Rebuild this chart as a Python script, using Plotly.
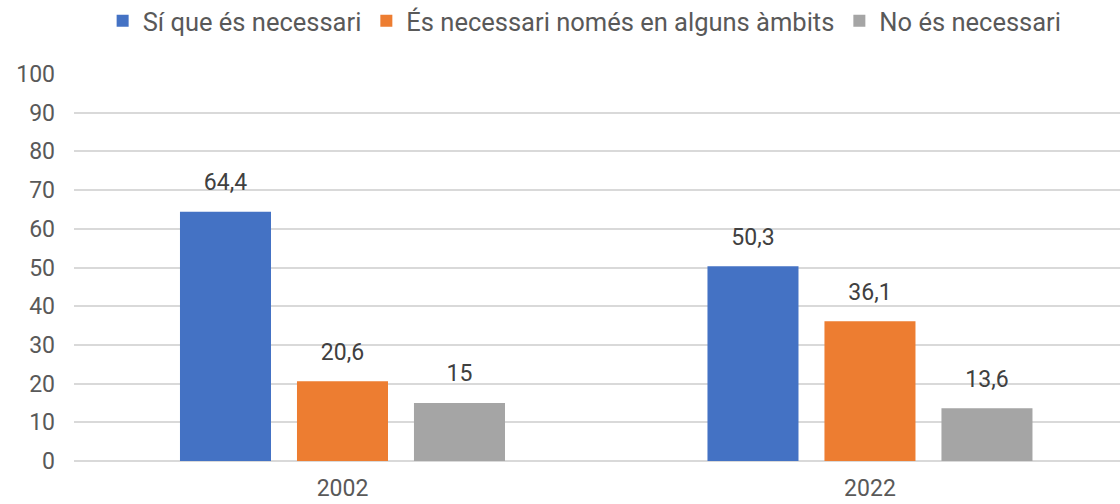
import plotly.graph_objects as go

years = ["2002", "2022"]
series_names = ["Sí que és necessari", "És necessari només en alguns àmbits", "No és necessari"]
si_necessari = [64.4, 50.3]
alguns_ambits = [20.6, 36.1]
no_necessari = [15, 13.6]
colors = ["#4472C4", "#ED7D31", "#A5A5A5"]

fig = go.Figure()

for i, (name, vals, col) in enumerate(zip(series_names, [si_necessari, alguns_ambits, no_necessari], colors)):
    fig.add_trace(go.Bar(
        x=years, y=vals, marker_color=col, marker_line_width=0,
        offsetgroup=str(i), showlegend=False, name=name, hoverinfo="skip"))
    # data labels (invisible marker lifts the text off the bar top)
    fig.add_trace(go.Scatter(
        x=years, y=vals, mode="markers+text", offsetgroup=str(i),
        texttemplate="%{y}", textposition="top center", cliponaxis=False,
        textfont=dict(size=23, color="#404040"),
        marker=dict(size=24, opacity=0), showlegend=False, name=name))
    # square legend swatch
    fig.add_trace(go.Scatter(
        x=[None], y=[None], mode="markers", name=name,
        marker=dict(symbol="square", size=12, color=col)))

fig.update_layout(
    width=1120, height=504,
    margin=dict(l=74, r=0, t=74, b=43),
    paper_bgcolor="white", plot_bgcolor="white",
    font=dict(family="Roboto", size=23, color="#595959"),
    separators=",.",
    barmode="group", bargap=0.3346, bargroupgap=0.222,
    scattermode="group", scattergap=0.3346,
    legend=dict(orientation="h", x=0.522, xref="container", xanchor="center",
                y=0.958, yref="container", yanchor="middle",
                itemwidth=30, font=dict(size=25.5, color="#595959")),
    xaxis=dict(range=[-0.509, 1.474], showgrid=False, showline=False, ticks="",
               ticklabelstandoff=11, automargin=False),
    yaxis=dict(range=[0, 100], dtick=10, showgrid=True, gridcolor="#D9D9D9",
               gridwidth=2, zeroline=True, zerolinecolor="#D9D9D9", zerolinewidth=2,
               ticks="", ticklabelstandoff=18, automargin=False),
)

fig.write_html("out.html", config={"displayModeBar": False},
               post_script="document.body.style.margin='0';")
